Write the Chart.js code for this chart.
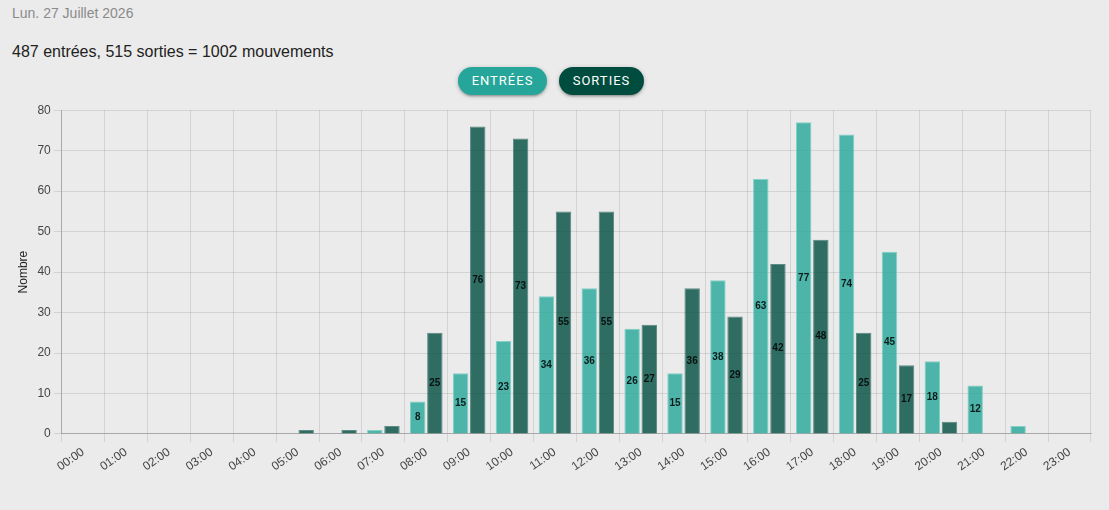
<!DOCTYPE html>
<html>
<head>
<meta charset="utf-8">
<title>Mouvements</title>
<script src="https://cdn.jsdelivr.net/npm/chart.js@4.4.1/dist/chart.umd.min.js"></script>
<style>
	html, body { margin: 0; padding: 0; background: #ebebeb; }
	body { width: 1109px; height: 510px; position: relative; overflow: hidden; font-family: "Liberation Sans", Arial, sans-serif; }
	#date { position: absolute; left: 12px; top: 5px; font-size: 14px; color: #8a8a8a; }
	#total { position: absolute; left: 12px; top: 43px; font-size: 16px; color: #222; }
	.btn { position: absolute; top: 67px; height: 28px; line-height: 28px; border-radius: 14px; color: #fff;
		font-family: Roboto, sans-serif; font-size: 13px; letter-spacing: 1px; text-align: center;
		box-shadow: 0 2px 2px rgba(0,0,0,.14), 0 3px 1px -2px rgba(0,0,0,.12), 0 1px 5px rgba(0,0,0,.2); }
	#btn-in { left: 458px; width: 89px; background: #26a69a; }
	#btn-out { left: 559px; width: 85px; background: #004d40; }
	#wrap { position: absolute; left: 0; top: 100px; width: 1109px; height: 400px; }
</style>
</head>
<body>
<div id="date">Lun. 27 Juillet 2026</div>
<div id="total">487 entrées, 515 sorties = 1002 mouvements</div>
<div class="btn" id="btn-in">ENTRÉES</div>
<div class="btn" id="btn-out">SORTIES</div>
<div id="wrap"><canvas id="mycanvas"></canvas></div>
<script>
var hours = ["00:00","01:00","02:00","03:00","04:00","05:00","06:00","07:00","08:00","09:00","10:00","11:00",
	"12:00","13:00","14:00","15:00","16:00","17:00","18:00","19:00","20:00","21:00","22:00","23:00"];
var entrees = [0,0,0,0,0,0,0,1,8,15,23,34,36,26,15,38,63,77,74,45,18,12,2,0];
var sorties = [0,0,0,0,0,1,1,2,25,76,73,55,55,27,36,29,42,48,25,17,3,0,0,0];

// valeurs au milieu des barres
var barLabels = {
	id: 'barLabels',
	afterDatasetsDraw: function(chart) {
		var ctx = chart.ctx;
		ctx.save();
		ctx.font = "bold 10px 'Liberation Sans', Arial, sans-serif";
		ctx.fillStyle = "rgba(0,0,0,0.85)";
		ctx.textAlign = "center";
		ctx.textBaseline = "middle";
		chart.data.datasets.forEach(function(ds, i) {
			var meta = chart.getDatasetMeta(i);
			meta.data.forEach(function(bar, j) {
				var v = ds.data[j];
				if (v < 5) return;
				ctx.fillText(v, bar.x, (bar.y + bar.base) / 2);
			});
		});
		ctx.restore();
	}
};

Chart.defaults.font.family = "'Liberation Sans', Arial, sans-serif";
Chart.defaults.color = "#444";

var chartdata = {
	labels: hours,
	datasets: [
		{
			label: "Entrées",
			backgroundColor: "rgba(38, 166, 154, 0.8)",
			borderColor: "rgba(120, 205, 195, 0.9)",
			borderWidth: 1,
			data: entrees
		},
		{
			label: "Sorties",
			backgroundColor: "rgba(0, 77, 64, 0.8)",
			borderColor: "rgba(0, 77, 64, 0.6)",
			borderWidth: 1,
			data: sorties
		}
	]
};

var ctx = document.getElementById("mycanvas");

var BarGraph = new Chart(ctx, {
	type: 'bar',
	data: chartdata,
	plugins: [barLabels],
	options: {
		responsive: true,
		maintainAspectRatio: false,
		animation: false,
		layout: { padding: { left: 12, right: 18, top: 8, bottom: 23 } },
		plugins: {
			legend: { display: false },
			tooltip: { enabled: false }
		},
		scales: {
			x: {
				grid: { color: "rgba(0,0,0,0.1)" },
				border: { color: "rgba(0,0,0,0.2)" },
				ticks: { font: { size: 12 }, minRotation: 35, maxRotation: 35, autoSkip: false }
			},
			y: {
				min: 0,
				max: 80,
				grid: { color: "rgba(0,0,0,0.1)" },
				border: { color: "rgba(0,0,0,0.2)" },
				ticks: { stepSize: 10, font: { size: 12 } },
				title: { display: true, text: "Nombre", font: { size: 12 }, color: "#222" }
			}
		}
	}
});
</script>
</body>
</html>
